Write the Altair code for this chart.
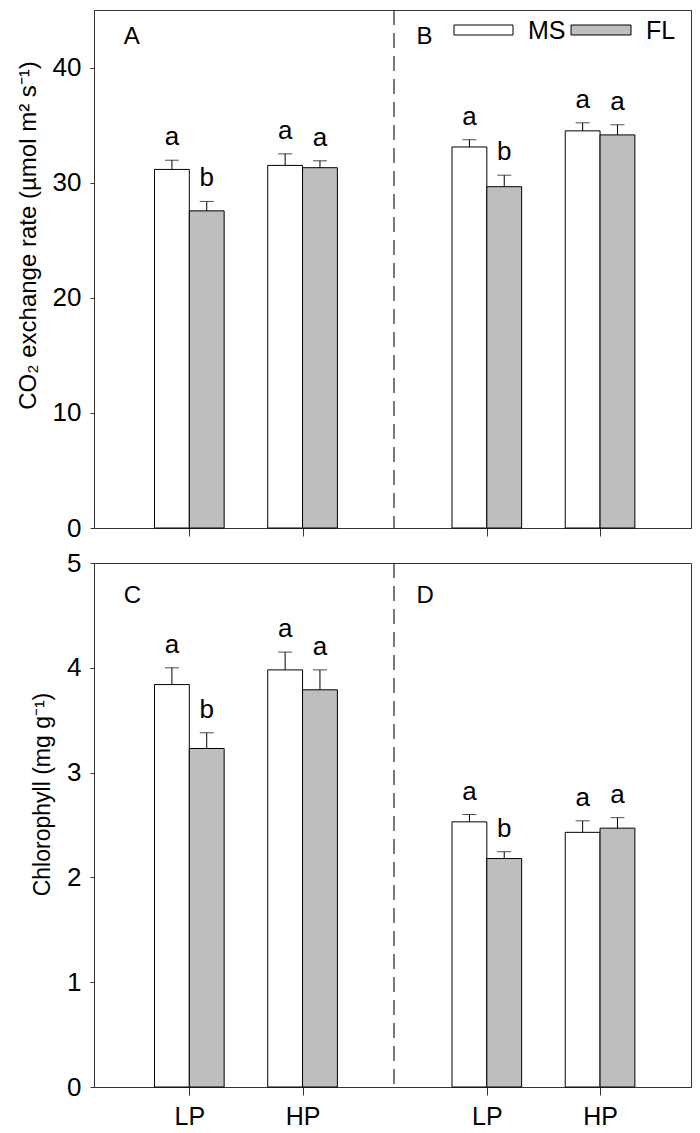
import altair as alt
import pandas as pd

# ---------------- data ----------------
panels_top = ["A", "B"]
panels_bottom = ["C", "D"]
groups = ["LP", "HP"]
treatments = ["MS", "FL"]

# order: A-LP, A-HP, B-LP, B-HP
co2_ms = [31.15, 31.5, 33.1, 34.5]
co2_ms_se = [0.8, 1.0, 0.63, 0.7]
co2_fl = [27.55, 31.3, 29.65, 34.15]
co2_fl_se = [0.82, 0.6, 1.0, 0.88]
co2_ms_letters = ["a", "a", "a", "a"]
co2_fl_letters = ["b", "a", "b", "a"]

# order: C-LP, C-HP, D-LP, D-HP
chl_ms = [3.84, 3.98, 2.53, 2.43]
chl_ms_se = [0.16, 0.17, 0.07, 0.11]
chl_fl = [3.23, 3.79, 2.18, 2.47]
chl_fl_se = [0.15, 0.19, 0.065, 0.10]
chl_ms_letters = ["a", "a", "a", "a"]
chl_fl_letters = ["b", "a", "b", "a"]

co2_ticks = [0, 10, 20, 30, 40]
chl_ticks = [0, 1, 2, 3, 4, 5]

# ---------------- layout (not data) ----------------
W = 597
H_TOP = 518
H_BOT = 524
X_DOMAIN = [0, 6]
GROUP_POS = [0.958, 2.096]
PANEL_OFFSET = [0.0, 2.99]
BAR_W = 0.35
DASH_X = 3.015
FONT = "Liberation Sans"
FL_GRAY = "#bdbec0"
FRAME = "#333333"


def centers():
    out = []
    for po in PANEL_OFFSET:
        for gp in GROUP_POS:
            out.append(po + gp)
    return out


CENTERS = centers()


def build_df(panels, ms, ms_se, fl, fl_se, ms_l, fl_l):
    rows = []
    i = 0
    for p in panels:
        for g in groups:
            c = CENTERS[i]
            for t, m, s, l in (("MS", ms[i], ms_se[i], ms_l[i]),
                               ("FL", fl[i], fl_se[i], fl_l[i])):
                x0 = c - BAR_W if t == "MS" else c
                rows.append(dict(panel=p, group=g, treatment=t, mean=m, se=s,
                                 top=m + s, letter=l, x0=x0, x1=x0 + BAR_W,
                                 xc=x0 + BAR_W / 2))
            i += 1
    return pd.DataFrame(rows)


df_top = build_df(panels_top, co2_ms, co2_ms_se, co2_fl, co2_fl_se,
                  co2_ms_letters, co2_fl_letters)
df_bot = build_df(panels_bottom, chl_ms, chl_ms_se, chl_fl, chl_fl_se,
                  chl_ms_letters, chl_fl_letters)

label_expr = ("(datum.value < 1.5 || (datum.value > 3.5 && datum.value < 4.5))"
              " ? 'LP' : 'HP'")


def make_row(df, ymax, yticks, ytitle, H, show_labels, panel_names, legend,
             title_y, letter_y, title_size):
    xscale = alt.Scale(domain=X_DOMAIN, nice=False, zero=False)
    yscale = alt.Scale(domain=[0, ymax], nice=False)
    if show_labels:
        xaxis = alt.Axis(values=CENTERS, labelExpr=label_expr, tickSize=8,
                         labelPadding=9, labelFontSize=25, title=None,
                         grid=False, labelAngle=0)
    else:
        xaxis = alt.Axis(values=CENTERS, labels=False, tickSize=8,
                         title=None, grid=False)
    yaxis = alt.Axis(values=yticks, format="d", tickSize=4, labelPadding=9,
                     labelFontSize=26, title=ytitle, titleFontSize=title_size,
                     titleFontWeight="normal", titlePadding=12, grid=False,
                     titleY=title_y, titleColor="black", titleFont=FONT)
    fill_scale = alt.Scale(domain=treatments, range=["white", FL_GRAY])

    base = alt.Chart(df)
    bars = base.mark_rect(stroke="black", strokeWidth=1).encode(
        x=alt.X("x0:Q", scale=xscale, axis=xaxis),
        x2="x1:Q",
        y=alt.Y("mean:Q", scale=yscale, axis=yaxis),
        y2=alt.datum(0),
        fill=alt.Fill("treatment:N", scale=fill_scale, legend=None),
    )
    err = base.mark_rule(color="black", strokeWidth=1).encode(
        x="xc:Q", y="mean:Q", y2="top:Q")
    caps = base.mark_tick(color="black", orient="horizontal", size=14,
                          thickness=1).encode(x="xc:Q", y="top:Q")
    letters = base.mark_text(fontSize=26, font=FONT, baseline="alphabetic",
                             dy=-15, color="black").encode(
        x="xc:Q", y="top:Q", text="letter:N")

    dash = alt.Chart(pd.DataFrame({"d": [0]})).mark_rule(
        color="#222222", strokeWidth=1.2, strokeDash=[15, 8]).encode(
        x=alt.datum(DASH_X), y=alt.value(0), y2=alt.value(H))

    pl_df = pd.DataFrame({"name": panel_names,
                          "px": [0.30, PANEL_OFFSET[1] + 0.25]})
    plabels = alt.Chart(pl_df).mark_text(
        fontSize=24, font=FONT, align="left", baseline="top",
        color="black").encode(x="px:Q", y=alt.value(letter_y), text="name:N")

    layers = [bars, err, caps, letters, dash, plabels]

    if legend:
        leg_pos = {"MS": (360, 419, 434), "FL": (477, 537, 552)}
        for t, col in zip(treatments, ["white", FL_GRAY]):
            x0, x1, tx = leg_pos[t]
            one = alt.Chart(pd.DataFrame({"t": [t]}))
            layers.append(one.mark_rect(stroke="black", strokeWidth=1,
                                        fill=col).encode(
                x=alt.value(x0), x2=alt.value(x1),
                y=alt.value(15), y2=alt.value(25)))
            layers.append(one.mark_text(fontSize=25, font=FONT, align="left",
                                        baseline="middle", color="black").encode(
                x=alt.value(tx), y=alt.value(20.5), text="t:N"))

    return alt.layer(*layers).properties(width=W, height=H)


top = make_row(df_top, 45, co2_ticks, "CO₂ exchange rate (µmol m² s⁻¹)",
               H_TOP, False, panels_top, True, 225, 15, 24)
bottom = make_row(df_bot, 5, chl_ticks, "Chlorophyll (mg g⁻¹)",
                  H_BOT, True, panels_bottom, False, 231, 21, 23)

chart = alt.vconcat(top, bottom, spacing=35, bounds="flush").properties(
    padding={"left": 7, "top": 0, "right": 0, "bottom": 0}
).configure(font=FONT).configure_view(
    stroke=FRAME, strokeWidth=1
).configure_axis(
    labelFont=FONT, labelColor="black", tickColor=FRAME, domainColor=FRAME,
    labelFontWeight="normal"
)

chart.save("out.html", embed_options={"renderer": "svg", "actions": False})
